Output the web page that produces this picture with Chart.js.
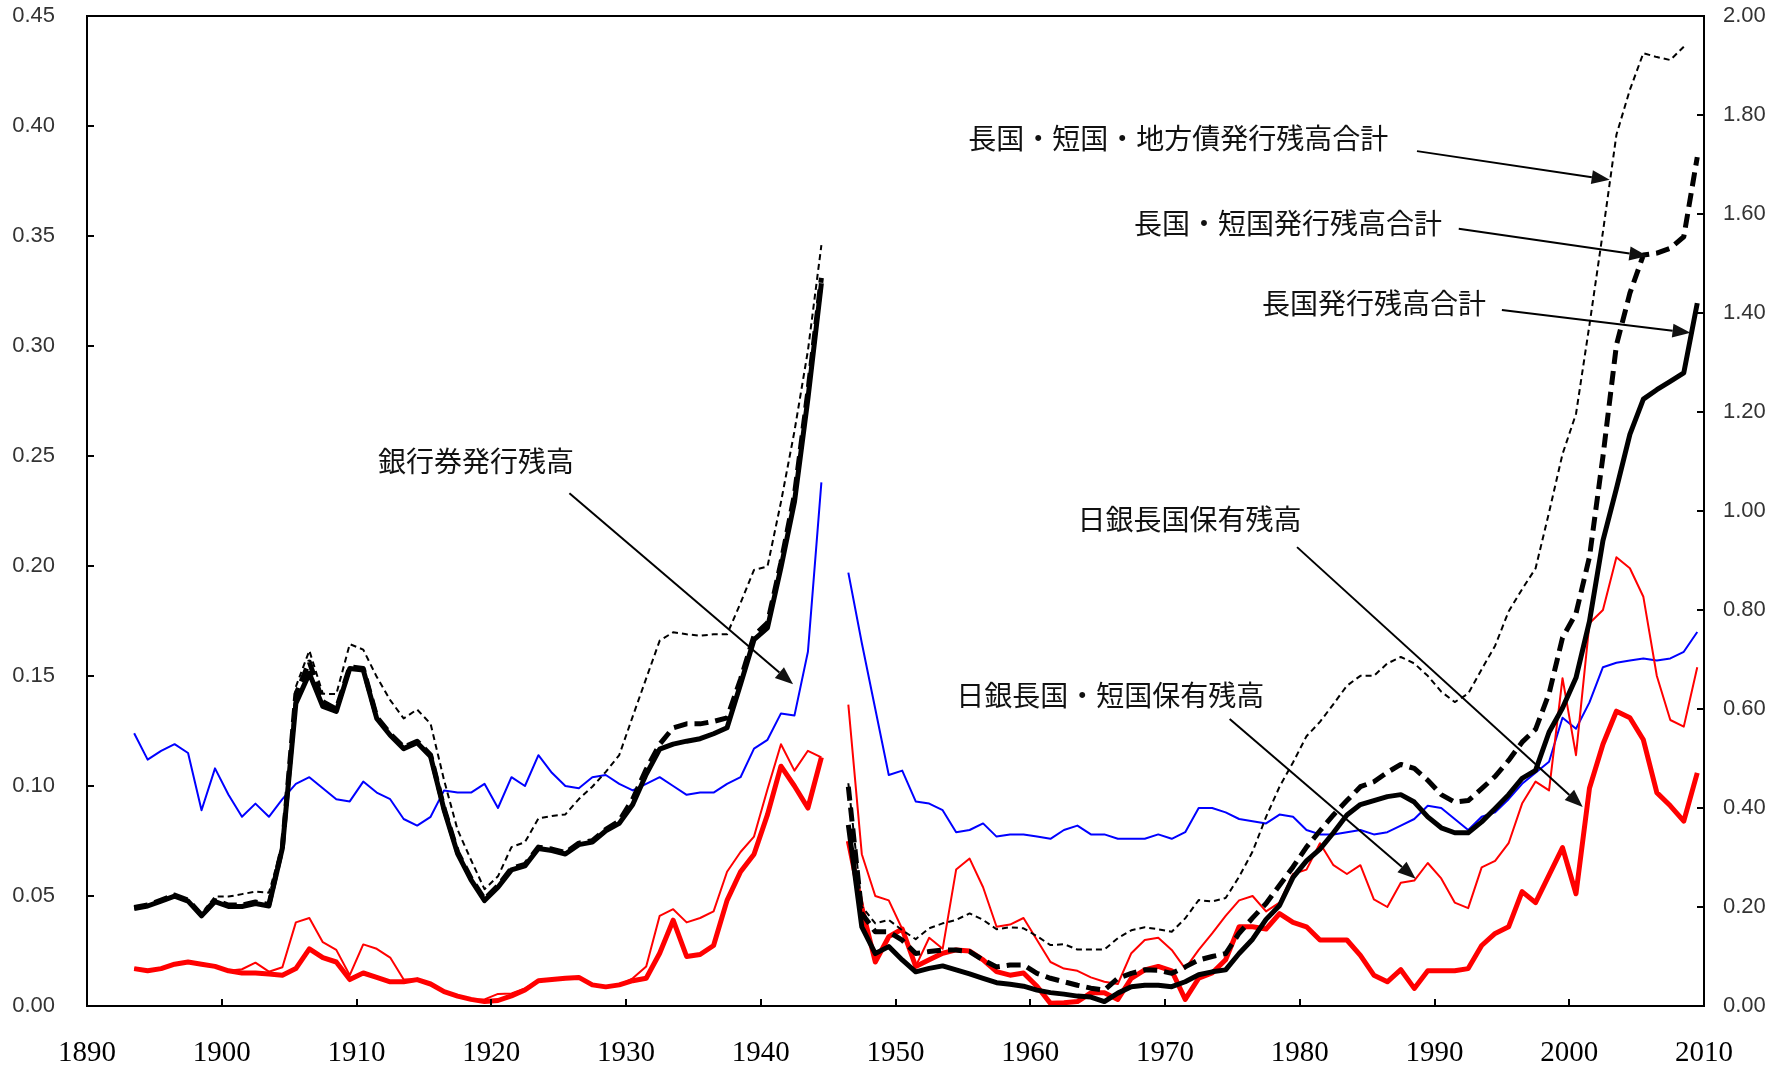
<!DOCTYPE html>
<html>
<head>
<meta charset="utf-8">
<script src="https://cdn.jsdelivr.net/npm/chart.js@4.4.1/dist/chart.umd.min.js"></script>
<style>
html, body { margin: 0; padding: 0; background: #fff; }
#wrap { width: 1784px; height: 1072px; }
</style>
</head>
<body>
<div id="wrap"><canvas id="myChart"></canvas></div>
<script>
// years 1893-2009, 1945 missing
const years = Array.from({ length: 117 }, (_, i) => 1893 + i);
const xTicks = [1890, 1900, 1910, 1920, 1930, 1940, 1950, 1960, 1970, 1980, 1990, 2000, 2010];

// left axis (ratio)
const bankNotes = [
    0.124, 0.112, 0.116, 0.119, 0.115, 0.089, 0.108,
    0.096, 0.086, 0.092, 0.086, 0.094, 0.101, 0.104, 0.099, 0.094, 0.093,
    0.102, 0.097, 0.094, 0.085, 0.082, 0.086, 0.098, 0.097, 0.097, 0.101,
    0.090, 0.104, 0.100, 0.114, 0.106, 0.100, 0.099, 0.104, 0.105, 0.101,
    0.098, 0.101, 0.104, 0.100, 0.096, 0.097, 0.097, 0.101, 0.104, 0.117,
    0.121, 0.133, 0.132, 0.161, 0.238, null, 0.197, 0.165, 0.135, 0.105,
    0.107, 0.093, 0.092, 0.089, 0.079, 0.080, 0.083, 0.077, 0.078, 0.078,
    0.077, 0.076, 0.080, 0.082, 0.078, 0.078, 0.076, 0.076, 0.076, 0.078,
    0.076, 0.079, 0.090, 0.090, 0.088, 0.085, 0.084, 0.083, 0.087, 0.086,
    0.080, 0.078, 0.078, 0.079, 0.080, 0.078, 0.079, 0.082, 0.085, 0.091,
    0.090, 0.085, 0.080, 0.086, 0.088, 0.094, 0.101, 0.106, 0.111, 0.131,
    0.126, 0.138, 0.154, 0.156, 0.157, 0.158, 0.157, 0.158, 0.161, 0.170
];
const bojLong = [
    0.017, 0.016, 0.017, 0.019, 0.020, 0.019, 0.018,
    0.016, 0.015, 0.015, 0.0145, 0.014, 0.017, 0.026, 0.022, 0.020, 0.012,
    0.015, 0.013, 0.011, 0.011, 0.012, 0.010, 0.0065, 0.0045, 0.003, 0.002,
    0.0025, 0.0046, 0.0073, 0.0115, 0.012, 0.0126, 0.013, 0.0096, 0.0087, 0.0096,
    0.0115, 0.0126, 0.024, 0.039, 0.0225, 0.0234, 0.0275, 0.048, 0.061, 0.069,
    0.087, 0.109, 0.100, 0.090, 0.113, null, 0.075, 0.045, 0.020, 0.0315,
    0.035, 0.018, 0.021, 0.024, 0.0255, 0.025, 0.021, 0.0156, 0.014, 0.015,
    0.009, 0.0012, 0.0015, 0.002, 0.006, 0.006, 0.003, 0.0126, 0.0164, 0.018,
    0.016, 0.003, 0.0126, 0.015, 0.021, 0.036, 0.036, 0.035, 0.042, 0.038,
    0.036, 0.030, 0.030, 0.030, 0.023, 0.014, 0.011, 0.0165, 0.008, 0.016,
    0.016, 0.016, 0.017, 0.0275, 0.033, 0.036, 0.052, 0.047, 0.0595, 0.072,
    0.051, 0.099, 0.119, 0.134, 0.131, 0.121, 0.097, 0.091, 0.084, 0.106
];
const bojLongShort = [
    0.017, 0.016, 0.017, 0.019, 0.020, 0.019, 0.018,
    0.016, 0.0167, 0.0197, 0.0156, 0.0176, 0.038, 0.040, 0.029, 0.0255, 0.014,
    0.028, 0.026, 0.022, 0.012, 0.012, 0.010, 0.0065, 0.0045, 0.003, 0.003,
    0.0055, 0.0057, 0.008, 0.0115, 0.012, 0.0126, 0.013, 0.0096, 0.0087, 0.0096,
    0.0126, 0.018, 0.041, 0.044, 0.038, 0.040, 0.043, 0.061, 0.070, 0.077,
    0.0985, 0.119, 0.107, 0.116, 0.113, null, 0.137, 0.069, 0.050, 0.048,
    0.035, 0.018, 0.031, 0.026, 0.062, 0.067, 0.054, 0.036, 0.037, 0.040,
    0.030, 0.020, 0.017, 0.016, 0.013, 0.011, 0.010, 0.024, 0.030, 0.031,
    0.0255, 0.017, 0.0255, 0.033, 0.041, 0.048, 0.050, 0.043, 0.047, 0.060,
    0.062, 0.074, 0.064, 0.060, 0.064, 0.0485, 0.045, 0.056, 0.057, 0.065,
    0.058, 0.047, 0.0445, 0.063, 0.066, 0.074, 0.092, 0.102, 0.098, 0.149,
    0.114, 0.174, 0.180, 0.204, 0.199, 0.186, 0.150, 0.130, 0.127, 0.154
];

// right axis (ratio)
const longIssued = [
    0.197, 0.202, 0.212, 0.222, 0.212, 0.182, 0.211,
    0.201, 0.201, 0.207, 0.202, 0.319, 0.611, 0.672, 0.605, 0.595, 0.682,
    0.679, 0.581, 0.547, 0.520, 0.532, 0.504, 0.396, 0.308, 0.255, 0.213,
    0.240, 0.275, 0.283, 0.318, 0.314, 0.307, 0.326, 0.331, 0.354, 0.369,
    0.407, 0.468, 0.519, 0.529, 0.535, 0.540, 0.550, 0.562, 0.650, 0.740,
    0.764, 0.886, 1.018, 1.227, 1.460, null, 0.366, 0.160, 0.106, 0.120,
    0.093, 0.069, 0.076, 0.081, 0.073, 0.065, 0.056, 0.047, 0.044, 0.040,
    0.032, 0.027, 0.024, 0.020, 0.018, 0.009, 0.026, 0.039, 0.042, 0.042,
    0.039, 0.049, 0.063, 0.069, 0.073, 0.106, 0.135, 0.175, 0.203, 0.260,
    0.293, 0.317, 0.350, 0.386, 0.407, 0.415, 0.423, 0.427, 0.412, 0.382,
    0.360, 0.350, 0.350, 0.372, 0.399, 0.427, 0.460, 0.476, 0.553, 0.602,
    0.663, 0.777, 0.940, 1.045, 1.155, 1.226, 1.245, 1.262, 1.279, 1.420
];
const longShortIssued = [
    0.199, 0.204, 0.214, 0.224, 0.214, 0.184, 0.213,
    0.204, 0.204, 0.210, 0.205, 0.321, 0.630, 0.695, 0.615, 0.600, 0.685,
    0.682, 0.584, 0.550, 0.523, 0.535, 0.507, 0.399, 0.311, 0.258, 0.216,
    0.243, 0.278, 0.286, 0.321, 0.317, 0.310, 0.329, 0.334, 0.357, 0.374,
    0.418, 0.478, 0.529, 0.562, 0.570, 0.570, 0.575, 0.582, 0.660, 0.748,
    0.774, 0.896, 1.033, 1.242, 1.471, null, 0.443, 0.187, 0.150, 0.150,
    0.133, 0.106, 0.110, 0.113, 0.113, 0.110, 0.093, 0.079, 0.083, 0.083,
    0.066, 0.056, 0.049, 0.042, 0.036, 0.032, 0.056, 0.066, 0.073, 0.072,
    0.066, 0.079, 0.093, 0.100, 0.106, 0.147, 0.178, 0.207, 0.244, 0.281,
    0.321, 0.354, 0.386, 0.415, 0.443, 0.453, 0.472, 0.488, 0.480, 0.456,
    0.427, 0.412, 0.415, 0.439, 0.464, 0.496, 0.533, 0.559, 0.631, 0.744,
    0.793, 0.907, 1.110, 1.335, 1.440, 1.517, 1.521, 1.531, 1.554, 1.715
];
const allIssued = [
    0.199, 0.204, 0.214, 0.224, 0.214, 0.187, 0.221,
    0.221, 0.226, 0.231, 0.229, 0.325, 0.645, 0.718, 0.631, 0.630, 0.731,
    0.720, 0.665, 0.618, 0.581, 0.599, 0.570, 0.456, 0.356, 0.295, 0.236,
    0.262, 0.321, 0.331, 0.379, 0.384, 0.387, 0.418, 0.443, 0.473, 0.507,
    0.585, 0.662, 0.738, 0.755, 0.751, 0.748, 0.751, 0.751, 0.814, 0.881,
    0.888, 1.018, 1.161, 1.324, 1.537, null, 0.450, 0.201, 0.167, 0.174,
    0.153, 0.135, 0.157, 0.167, 0.174, 0.187, 0.174, 0.155, 0.159, 0.157,
    0.141, 0.123, 0.125, 0.114, 0.114, 0.114, 0.137, 0.153, 0.159, 0.155,
    0.150, 0.177, 0.214, 0.211, 0.218, 0.261, 0.312, 0.382, 0.443, 0.492,
    0.545, 0.574, 0.610, 0.647, 0.667, 0.667, 0.692, 0.705, 0.692, 0.667,
    0.635, 0.614, 0.631, 0.680, 0.728, 0.797, 0.842, 0.884, 0.997, 1.115,
    1.196, 1.376, 1.564, 1.760, 1.851, 1.925, 1.917, 1.911, 1.938, null
];

// callouts: text anchor and arrow, in (year, right axis value)
const notes = [
    { text: '長国・短国・地方債発行残高合計', at: [1954.9, 1.752], from: [1988.2, 1.727], to: [2002.5, 1.669] },
    { text: '長国・短国発行残高合計', at: [1967.2, 1.582], from: [1991.3, 1.570], to: [2005.3, 1.515] },
    { text: '長国発行残高合計', at: [1976.7, 1.420], from: [1994.5, 1.406], to: [2008.5, 1.360] },
    { text: '銀行券発行残高', at: [1911.1, 1.101], from: [1925.3, 1.036], to: [1941.9, 0.650] },
    { text: '日銀長国保有残高', at: [1963.0, 0.984], from: [1979.3, 0.927], to: [2000.5, 0.402] },
    { text: '日銀長国・短国保有残高', at: [1954.0, 0.628], from: [1974.3, 0.580], to: [1988.1, 0.257] }
];

function pts(arr) {
    return years.map((yr, i) => ({ x: yr, y: arr[i] }));
}

// keep tick label padding from pushing the plot area down
function fixWidth(w) {
    return sc => { sc.width = w; sc.paddingTop = 0; sc.paddingBottom = 0; };
}

const framePlugin = {
    id: 'frame',
    afterDatasetsDraw(chart) {
        const ctx = chart.ctx, a = chart.chartArea, s = chart.scales;
        ctx.save();
        ctx.strokeStyle = '#000';
        ctx.lineWidth = 2;
        ctx.beginPath();
        s.y.ticks.forEach(t => {
            const py = Math.round(s.y.getPixelForValue(t.value));
            ctx.moveTo(a.left, py); ctx.lineTo(a.left + 7, py);
        });
        s.y2.ticks.forEach(t => {
            const py = Math.round(s.y2.getPixelForValue(t.value));
            ctx.moveTo(a.right, py); ctx.lineTo(a.right - 7, py);
        });
        s.x.ticks.forEach(t => {
            const px = Math.round(s.x.getPixelForValue(t.value));
            ctx.moveTo(px, a.bottom); ctx.lineTo(px, a.bottom - 7);
        });
        ctx.stroke();
        ctx.strokeRect(a.left, a.top, a.right - a.left, a.bottom - a.top);

        // callouts
        ctx.fillStyle = '#111';
        ctx.font = '28px "Noto Sans CJK JP"';
        ctx.textBaseline = 'middle';
        ctx.lineWidth = 2;
        notes.forEach(n => {
            const tx = s.x.getPixelForValue(n.at[0]), ty = s.y2.getPixelForValue(n.at[1]);
            ctx.fillText(n.text, tx, ty);
            const x0 = s.x.getPixelForValue(n.from[0]), y0 = s.y2.getPixelForValue(n.from[1]);
            const x1 = s.x.getPixelForValue(n.to[0]), y1 = s.y2.getPixelForValue(n.to[1]);
            const ang = Math.atan2(y1 - y0, x1 - x0);
            const len = 18, half = 7;
            const bx = x1 - len * Math.cos(ang), by = y1 - len * Math.sin(ang);
            ctx.beginPath();
            ctx.moveTo(x0, y0); ctx.lineTo(bx, by);
            ctx.stroke();
            ctx.beginPath();
            ctx.moveTo(x1, y1);
            ctx.lineTo(bx + half * Math.sin(ang), by - half * Math.cos(ang));
            ctx.lineTo(bx - half * Math.sin(ang), by + half * Math.cos(ang));
            ctx.closePath();
            ctx.fill();
        });
        ctx.restore();
    }
};

const ctx = document.getElementById('myChart').getContext('2d');
const myChartObj = new Chart(ctx, {
    type: 'line',
    data: {
        datasets: [
            { label: '長国発行残高合計', data: pts(longIssued), yAxisID: 'y2',
              borderColor: '#000', borderWidth: 5 },
            { label: '長国・短国発行残高合計', data: pts(longShortIssued), yAxisID: 'y2',
              borderColor: '#000', borderWidth: 5, borderDash: [14, 7] },
            { label: '長国・短国・地方債発行残高合計', data: pts(allIssued), yAxisID: 'y2',
              borderColor: '#000', borderWidth: 2, borderDash: [6, 4] },
            { label: '日銀長国保有残高', data: pts(bojLong), yAxisID: 'y',
              borderColor: '#ff0000', borderWidth: 5 },
            { label: '日銀長国・短国保有残高', data: pts(bojLongShort), yAxisID: 'y',
              borderColor: '#ff0000', borderWidth: 2 },
            { label: '銀行券発行残高', data: pts(bankNotes), yAxisID: 'y',
              borderColor: '#0000ff', borderWidth: 2 }
        ]
    },
    options: {
        responsive: true,
        maintainAspectRatio: false,
        animation: false,
        spanGaps: false,
        layout: { padding: { top: 16, left: 0, right: 0, bottom: 0 } },
        elements: {
            point: { radius: 0 },
            line: { tension: 0, borderJoinStyle: 'round', fill: false }
        },
        plugins: { legend: { display: false }, tooltip: { enabled: false } },
        scales: {
            x: {
                type: 'linear',
                min: xTicks[0] - 0.5,
                max: xTicks[xTicks.length - 1] - 0.5,
                afterBuildTicks: sc => { sc.ticks = xTicks.map(v => ({ value: v - 0.5 })); },
                afterFit: sc => { sc.height = 66; sc.paddingLeft = 0; sc.paddingRight = 0; },
                grid: { display: false, drawTicks: false },
                border: { display: false },
                ticks: {
                    autoSkip: false, maxRotation: 0, padding: 30,
                    color: '#000',
                    font: { family: 'Liberation Serif', size: 29 },
                    callback: (v, i) => xTicks[i]
                }
            },
            y: {
                position: 'left',
                min: 0, max: 0.45,
                afterFit: fixWidth(87),
                grid: { display: false, drawTicks: false },
                border: { display: false },
                ticks: {
                    stepSize: 0.05, padding: 32, color: '#333',
                    font: { family: 'Liberation Sans', size: 22 },
                    callback: v => v.toFixed(2)
                }
            },
            y2: {
                position: 'right',
                min: 0, max: 2,
                afterFit: fixWidth(80),
                grid: { display: false, drawTicks: false },
                border: { display: false },
                ticks: {
                    stepSize: 0.2, padding: 19, color: '#333',
                    font: { family: 'Liberation Sans', size: 22 },
                    callback: v => v.toFixed(2)
                }
            }
        }
    },
    plugins: [framePlugin]
});
</script>
</body>
</html>
